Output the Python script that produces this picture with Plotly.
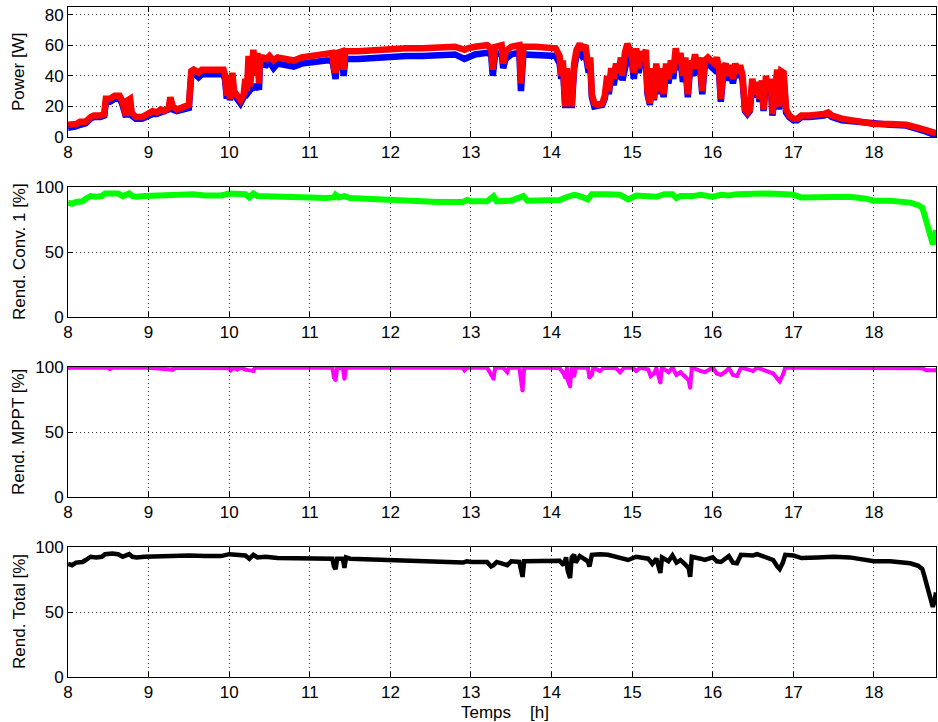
import plotly.graph_objects as go

# ---------------- data ----------------
t_power = [8.00, 8.05, 8.10, 8.15, 8.22, 8.28, 8.32, 8.40, 8.45, 8.47, 8.52, 8.58, 8.64, 8.67, 8.70, 8.72,
           8.74, 8.77, 8.79, 8.84, 8.92, 9.00, 9.05, 9.10, 9.15, 9.20, 9.25, 9.27, 9.30, 9.35, 9.42, 9.50,
           9.53, 9.56, 9.62, 9.66, 9.75, 9.85, 9.93, 9.95, 9.97, 9.99, 10.01, 10.04, 10.06, 10.10, 10.14, 10.18,
           10.20, 10.22, 10.24, 10.26, 10.28, 10.30, 10.32, 10.35, 10.37, 10.38, 10.42, 10.46, 10.50, 10.55, 10.60, 10.70,
           10.80, 10.90, 11.00, 11.10, 11.20, 11.28, 11.30, 11.32, 11.34, 11.40, 11.42, 11.44, 11.60, 11.80, 12.00, 12.20,
           12.40, 12.60, 12.80, 12.92, 12.96, 13.05, 13.20, 13.25, 13.27, 13.30, 13.38, 13.40, 13.43, 13.50, 13.60, 13.62,
           13.65, 13.80, 13.95, 14.05, 14.10, 14.12, 14.14, 14.17, 14.19, 14.21, 14.23, 14.25, 14.28, 14.31, 14.35, 14.38,
           14.42, 14.44, 14.46, 14.48, 14.50, 14.53, 14.58, 14.63, 14.66, 14.69, 14.71, 14.74, 14.77, 14.80, 14.83, 14.86,
           14.88, 14.91, 14.94, 14.97, 15.00, 15.02, 15.05, 15.08, 15.11, 15.14, 15.17, 15.19, 15.22, 15.25, 15.27, 15.30,
           15.33, 15.36, 15.39, 15.42, 15.45, 15.48, 15.51, 15.54, 15.57, 15.60, 15.63, 15.66, 15.69, 15.72, 15.75, 15.78,
           15.81, 15.84, 15.87, 15.90, 15.94, 15.98, 16.02, 16.05, 16.08, 16.10, 16.13, 16.16, 16.19, 16.22, 16.25, 16.28,
           16.31, 16.34, 16.37, 16.40, 16.43, 16.46, 16.49, 16.52, 16.55, 16.58, 16.61, 16.63, 16.66, 16.69, 16.72, 16.74,
           16.77, 16.80, 16.82, 16.85, 16.88, 16.91, 16.95, 17.00, 17.05, 17.10, 17.20, 17.30, 17.38, 17.43, 17.48, 17.60,
           17.80, 18.00, 18.20, 18.40, 18.55, 18.65, 18.72, 18.77]
p_red = [8, 8, 8.5, 10, 10, 13, 14, 14, 15, 25, 25, 27, 27, 24, 15, 14,
         24, 25, 16, 13, 13, 15, 17, 16, 18, 17, 19, 26, 20, 18, 19, 21,
         43, 44, 42, 44, 44, 44, 44, 40, 27, 40, 25, 42, 30, 27, 24, 28,
         38, 30, 53, 33, 45, 57, 40, 55, 35, 52, 52, 51, 53, 50, 52, 51,
         50, 52, 53, 53, 54, 55, 45, 42, 55, 56, 44, 56, 56, 57, 57, 58,
         58, 59, 59, 57, 58, 59, 60, 58, 44, 59, 60, 48, 56, 59, 60, 35,
         59, 59, 59, 58, 53, 40, 50, 20, 45, 22, 38, 20, 48, 57, 61, 57,
         60, 55, 45, 52, 28, 22, 21, 22, 27, 40, 30, 45, 38, 48, 42, 52,
         40, 55, 61, 57, 52, 42, 58, 45, 56, 52, 57, 30, 22, 45, 25, 48,
         30, 45, 28, 48, 38, 50, 42, 58, 48, 55, 40, 52, 28, 50, 45, 54,
         45, 52, 30, 50, 52, 50, 48, 52, 45, 25, 45, 48, 40, 47, 38, 48,
         42, 47, 40, 18, 16, 18, 38, 28, 36, 25, 37, 18, 40, 30, 38, 15,
         35, 44, 20, 43, 42, 18, 14, 12, 12, 14, 14, 14, 15, 16, 14, 12,
         10, 8.5, 8.5, 8, 6, 4, 2.5, 2.5]
p_blue = [6, 6, 7, 8, 9, 12, 13, 13, 14, 23, 23, 25, 25, 22, 14, 13,
          22, 23, 14, 12, 12, 14, 15, 15, 16, 16, 18, 24, 18, 17, 18, 19,
          41, 42, 39, 41, 41, 41, 41, 37, 25, 37, 24, 38, 28, 25, 22, 26,
          29, 28, 30, 31, 32, 32, 33, 33, 31, 48, 48, 47, 49, 45, 48, 47,
          46, 48, 49, 49, 50, 50, 42, 38, 50, 51, 40, 51, 51, 52, 52, 53,
          53, 54, 54, 51, 52, 54, 55, 54, 40, 54, 55, 45, 51, 54, 55, 30,
          54, 54, 54, 53, 48, 38, 46, 19, 42, 20, 35, 19, 45, 53, 56, 53,
          55, 50, 42, 48, 26, 20, 20, 21, 25, 36, 28, 40, 34, 42, 38, 47,
          37, 48, 52, 53, 48, 38, 50, 42, 50, 46, 50, 28, 21, 41, 24, 43,
          28, 40, 26, 43, 35, 45, 38, 53, 44, 50, 36, 47, 26, 45, 40, 49,
          41, 47, 28, 46, 48, 46, 44, 47, 41, 23, 41, 44, 37, 43, 35, 44,
          39, 43, 37, 17, 15, 17, 34, 26, 33, 23, 34, 17, 36, 28, 35, 14,
          32, 40, 18, 39, 38, 16, 13, 11, 11, 13, 13, 13, 14, 15, 13, 11,
          10, 8, 8, 7.5, 5.5, 3.5, 2, 2]

t_conv = [8.00, 8.05, 8.10, 8.18, 8.22, 8.28, 8.35, 8.42, 8.46, 8.55, 8.62, 8.68, 8.72, 8.76, 8.80, 8.85,
          8.95, 9.10, 9.30, 9.50, 9.55, 9.70, 9.90, 10.00, 10.10, 10.20, 10.25, 10.30, 10.35, 10.45, 10.60, 10.80,
          11.00, 11.20, 11.30, 11.32, 11.36, 11.43, 11.50, 11.70, 12.00, 12.30, 12.60, 12.90, 12.95, 13.00, 13.20, 13.28,
          13.32, 13.50, 13.65, 13.70, 14.00, 14.10, 14.20, 14.28, 14.35, 14.45, 14.50, 14.60, 14.70, 14.85, 14.95, 15.05,
          15.20, 15.25, 15.30, 15.40, 15.50, 15.55, 15.60, 15.75, 15.85, 15.95, 16.00, 16.10, 16.20, 16.30, 16.50, 16.70,
          16.90, 17.00, 17.10, 17.30, 17.50, 17.70, 17.90, 18.00, 18.20, 18.35, 18.45, 18.55, 18.60, 18.62, 18.66, 18.70,
          18.73, 18.75, 18.77]
conv1 = [88, 87, 88.5, 89, 91, 93, 92.5, 93, 95, 95.5, 95, 93, 94, 95, 93, 92.5,
         93, 93.5, 94, 94, 94.5, 93.5, 93.5, 95, 94.5, 94.5, 92, 95, 93, 93, 92, 92,
         92, 91.5, 92, 94, 92, 93, 91.5, 91, 90, 89.5, 88.5, 88.5, 90, 89, 89, 93,
         89, 89.5, 93, 89.5, 89.5, 90, 92.5, 94, 93, 90.5, 94.5, 95, 94.5, 94, 90.5, 93.5,
         93, 92, 92.5, 94.5, 94.5, 91.5, 93, 93, 94, 93, 92.5, 94, 93.5, 94.5, 95, 95,
         94.5, 94, 92, 92.5, 93, 92.5, 91, 89.5, 89.5, 89, 88, 86, 84, 80, 70, 62,
         56, 60, 67]

t_mppt = [8.00, 8.50, 8.52, 8.55, 9.00, 9.30, 9.32, 10.00, 10.02, 10.05, 10.10, 10.15, 10.20, 10.30, 10.32, 10.40,
          11.28, 11.30, 11.32, 11.34, 11.41, 11.43, 11.45, 12.00, 12.90, 12.92, 12.95, 13.20, 13.25, 13.28, 13.30, 13.40,
          13.45, 13.47, 13.60, 13.62, 13.63, 13.64, 13.66, 14.00, 14.10, 14.15, 14.17, 14.19, 14.20, 14.22, 14.23, 14.25,
          14.28, 14.30, 14.45, 14.47, 14.50, 14.52, 14.60, 14.65, 14.80, 14.85, 14.90, 15.00, 15.05, 15.10, 15.20, 15.23,
          15.27, 15.30, 15.35, 15.37, 15.45, 15.50, 15.55, 15.60, 15.65, 15.70, 15.72, 15.74, 15.85, 15.90, 16.00, 16.05,
          16.10, 16.15, 16.20, 16.25, 16.30, 16.35, 16.50, 16.55, 16.75, 16.80, 16.83, 16.87, 16.90, 17.00, 18.00, 18.60,
          18.65, 18.77]
mppt = [99.5, 99.5, 98.5, 99.5, 99.5, 98, 99.5, 99, 97.5, 99.5, 98, 99.5, 98, 97, 99.5, 99.5,
        99.5, 92, 90, 99.5, 99, 91, 99.5, 99.5, 99.5, 97.5, 99.5, 99.5, 94, 91, 99.5, 99.5,
        96, 99.5, 99.5, 93, 86, 82, 99.5, 99.5, 99, 95, 92, 99, 90, 87, 85, 99,
        93, 99.5, 99.5, 92, 94, 99.5, 97, 99.5, 99, 96, 99.5, 99.5, 97, 99.5, 98, 93,
        95, 99, 88, 99.5, 96, 99.5, 94, 96, 93, 90, 84, 99.5, 97, 96, 99.5, 95,
        94, 96, 99, 94, 93, 99.5, 97, 99.5, 95, 91, 89, 94, 99.5, 99.5, 99.5, 99,
        97.5, 97.5]

t_total = [8.00, 8.05, 8.10, 8.18, 8.22, 8.28, 8.35, 8.42, 8.46, 8.55, 8.62, 8.68, 8.72, 8.76, 8.80, 8.85,
           8.95, 9.10, 9.30, 9.50, 9.70, 9.90, 10.00, 10.10, 10.20, 10.25, 10.30, 10.35, 10.45, 10.60, 10.80, 11.00,
           11.20, 11.28, 11.30, 11.32, 11.34, 11.41, 11.43, 11.45, 11.50, 11.70, 12.00, 12.30, 12.60, 12.90, 12.95, 13.00,
           13.20, 13.25, 13.28, 13.32, 13.45, 13.50, 13.60, 13.62, 13.63, 13.64, 13.66, 14.00, 14.10, 14.15, 14.18, 14.20,
           14.22, 14.23, 14.25, 14.28, 14.30, 14.35, 14.45, 14.47, 14.50, 14.60, 14.70, 14.85, 14.95, 15.05, 15.20, 15.25,
           15.30, 15.35, 15.37, 15.45, 15.50, 15.55, 15.60, 15.65, 15.70, 15.72, 15.74, 15.85, 15.90, 16.00, 16.05, 16.10,
           16.15, 16.20, 16.25, 16.30, 16.35, 16.50, 16.55, 16.75, 16.80, 16.83, 16.87, 16.90, 17.00, 17.10, 17.30, 17.50,
           17.70, 17.90, 18.00, 18.20, 18.35, 18.45, 18.55, 18.60, 18.62, 18.66, 18.70, 18.73, 18.75, 18.77]
total = [87, 86, 88, 88.5, 90, 92.5, 92, 92.5, 94.5, 95, 94.5, 92.5, 93.5, 94.5, 92.5, 92,
         92.5, 93, 93.5, 93.5, 93, 93, 94.5, 94, 93.5, 91, 94, 92, 92.5, 91.5, 91.5, 91.5,
         91, 91, 85, 83, 91, 91, 84, 92, 91, 90.5, 89.5, 89, 88, 88, 89, 88.5,
         88.5, 85, 86, 88.5, 86, 89, 88.5, 83, 80, 77, 89, 89, 89.5, 86, 92, 82,
         78, 76, 92, 94, 88, 93, 89, 85, 94, 94.5, 94, 92, 90, 92.5, 91, 87,
         91, 80, 92, 89, 93.5, 88, 90, 87, 84, 77, 92.5, 91, 90, 92, 89, 88.5,
         91, 93, 88, 87.5, 94, 93.5, 94.5, 90, 85, 83, 88, 94, 93.5, 91.5, 92, 92.5,
         92, 90.5, 89, 89, 88.5, 87.5, 85.5, 83, 79, 69, 60, 54, 58, 65]

x_ticks = [8, 9, 10, 11, 12, 13, 14, 15, 16, 17, 18]
power_ticks = [0, 20, 40, 60, 80]
pct_ticks = [0, 50, 100]

y_titles = ["Power [W]", "Rend. Conv. 1 [%]", "Rend. MPPT [%]", "Rend. Total [%]"]
x_title = "Temps\u00a0\u00a0\u00a0\u00a0[h]"

# ---------------- figure ----------------
W, H = 938, 722
ml, mr, mt, mb = 68, 2, 7, 45
ph = H - mt - mb
pw = W - ml - mr
panels_px = [(7, 137), (187, 317), (367, 497), (547, 677)]
domains = [[1 - (b - mt) / ph, 1 - (t - mt) / ph] for t, b in panels_px]

FONT = "Arial, Liberation Sans, Helvetica, sans-serif"
fig = go.Figure()

def add(x, y, color, width, axis, marker=0):
    fig.add_trace(go.Scatter(
        x=x, y=y, mode="lines+markers" if marker else "lines",
        line=dict(color=color, width=width),
        marker=dict(color=color, size=marker, symbol="circle"),
        xaxis="x" + axis, yaxis="y" + axis, showlegend=False, hoverinfo="skip"))

add(t_power, p_blue, "#0000FF", 6.5, "")
add(t_power, p_red, "#FF0000", 6.5, "")
add(t_conv, conv1, "#00FF00", 6, "2")
add(t_mppt, mppt, "#FF00FF", 4, "3", 4)
add(t_total, total, "#000000", 4.5, "4")

axis_common = dict(
    showline=True, linecolor="black", linewidth=1, mirror="ticks",
    ticks="inside", ticklen=5, tickcolor="black", automargin=False,
    showgrid=True, gridcolor="#333333", griddash="1px,3px", gridwidth=1,
    zeroline=False, tickfont=dict(family=FONT, size=17, color="black"),
)
layout = dict(
    width=W, height=H, margin=dict(l=ml, r=mr, t=mt, b=mb, autoexpand=False),
    paper_bgcolor="white", plot_bgcolor="white", showlegend=False,
)
for i in range(4):
    s = "" if i == 0 else str(i + 1)
    layout["xaxis" + s] = dict(axis_common, domain=[0, 1], range=[8, 18.77],
                               tickvals=x_ticks, anchor="y" + s)
    yr = [0, 85] if i == 0 else [0, 100]
    yt = power_ticks if i == 0 else pct_ticks
    layout["yaxis" + s] = dict(axis_common, domain=domains[i], range=yr,
                               tickvals=yt, anchor="x" + s)
fig.update_layout(**layout)

ann = []
for i, txt in enumerate(y_titles):
    d = domains[i]
    ann.append(dict(text=txt, x=(19 - ml) / pw, y=(d[0] + d[1]) / 2,
                    xref="paper", yref="paper", textangle=-90, showarrow=False,
                    xanchor="center", yanchor="middle",
                    font=dict(family=FONT, size=17, color="black")))
ann.append(dict(text=x_title, x=(505 - ml) / pw, y=-(712 - 677) / ph,
                xref="paper", yref="paper", showarrow=False, xanchor="center",
                yanchor="middle", font=dict(family=FONT, size=17, color="black")))
fig.update_layout(annotations=ann)

fig.write_html("out.html", config={"displayModeBar": False},
               post_script="document.body.style.margin='0';")
